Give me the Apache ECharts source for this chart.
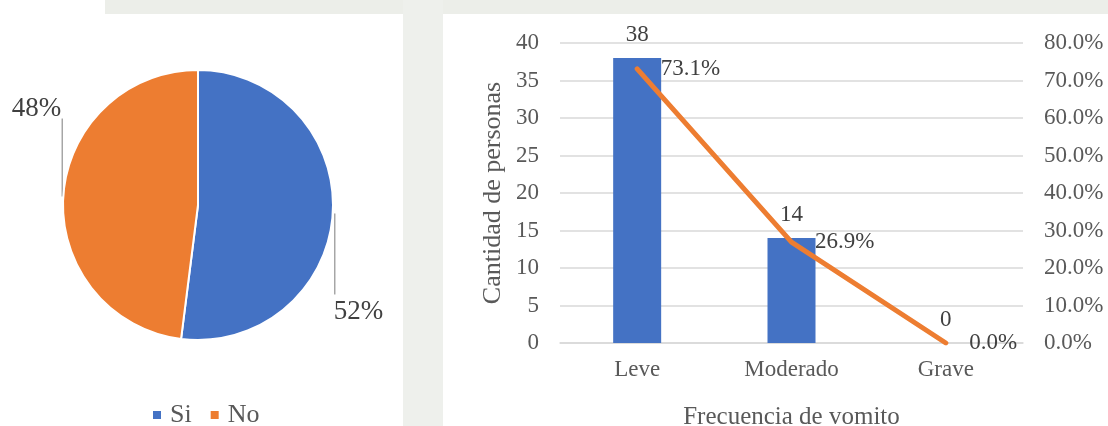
<!DOCTYPE html>
<html>
<head>
<meta charset="utf-8">
<script src="https://cdn.jsdelivr.net/npm/echarts@6/dist/echarts.min.js"></script>
<style>
html,body{margin:0;padding:0;background:#ffffff;}
#c{width:1108px;height:426px;}
</style>
</head>
<body>
<div id="c"></div>
<script>
// Pie data
const pieNames = ['Si', 'No'];
const pieValues = [52, 48];
// Bar + line data
const categories = ['Leve', 'Moderado', 'Grave'];
const counts = [38, 14, 0];
const percents = [0.731, 0.269, 0.0];
const leftTicks = [0, 5, 10, 15, 20, 25, 30, 35, 40];
const rightTicks = ['0.0%', '10.0%', '20.0%', '30.0%', '40.0%', '50.0%', '60.0%', '70.0%', '80.0%'];

const FONT = 'Liberation Serif';
const TXT = '#595959';
const DARK = '#404040';
const BLUE = '#4472C4';
const ORANGE = '#ED7D31';

const chart = echarts.init(document.getElementById('c'), null, {renderer: 'canvas'});

const option = {
  backgroundColor: '#ffffff',
  animation: false,
  textStyle: {fontFamily: FONT},
  graphic: [
    {type: 'rect', shape: {x: 105, y: 0, width: 1003, height: 14}, style: {fill: '#eceee9'}, z: -10, silent: true},
    {type: 'rect', shape: {x: 403, y: 0, width: 40, height: 426}, style: {fill: '#eef0ec'}, z: -10, silent: true}
  ],
  legend: {
    data: pieNames,
    left: 151,
    top: 402,
    padding: 0,
    icon: 'rect',
    itemWidth: 10,
    itemHeight: 10,
    itemGap: 17,
    textStyle: {fontFamily: FONT, fontSize: 26, color: TXT, padding: [0, 0, 0, 3]}
  },
  grid: {left: 560, right: 85, top: 43, bottom: 83, outerBoundsMode: 'none', containLabel: false},
  xAxis: {
    type: 'category',
    data: categories,
    axisLine: {lineStyle: {color: '#d9d9d9', width: 1.5}},
    axisTick: {show: false},
    axisLabel: {color: TXT, fontFamily: FONT, fontSize: 23, margin: 15},
    name: 'Frecuencia de vomito',
    nameLocation: 'middle',
    nameGap: 62,
    nameTextStyle: {color: TXT, fontFamily: FONT, fontSize: 25}
  },
  yAxis: [
    {
      type: 'value', min: 0, max: 40, interval: 5,
      axisLine: {show: false}, axisTick: {show: false},
      splitLine: {lineStyle: {color: '#d9d9d9', width: 1.5}},
      axisLabel: {color: TXT, fontFamily: FONT, fontSize: 23, margin: 21,
        formatter: function (v) { return String(leftTicks[Math.round(v / 5)]); }},
      name: 'Cantidad de personas',
      nameLocation: 'middle',
      nameGap: 54,
      nameRotate: 90,
      nameTextStyle: {color: TXT, fontFamily: FONT, fontSize: 26}
    },
    {
      type: 'value', min: 0, max: 0.8, interval: 0.1,
      axisLine: {show: false}, axisTick: {show: false},
      splitLine: {show: false},
      axisLabel: {color: TXT, fontFamily: FONT, fontSize: 23, margin: 21,
        formatter: function (v) { return rightTicks[Math.round(v * 10)]; }}
    }
  ],
  series: [
    {
      type: 'pie',
      center: [198, 205],
      radius: 135,
      startAngle: 90,
      clockwise: true,
      data: pieNames.map((n, i) => ({name: n, value: pieValues[i], itemStyle: {color: i === 0 ? BLUE : ORANGE}})),
      itemStyle: {borderColor: '#ffffff', borderWidth: 2},
      label: {
        show: true, position: 'outside', overflow: 'none',
        formatter: function (p) { return Math.round(p.percent) + '%'; },
        color: DARK, fontFamily: FONT, fontSize: 27
      },
      labelLine: {show: true, length: 10, length2: 10, lineStyle: {color: '#a6a6a6', width: 1.5}},
      labelLayout: function (params) {
        const p0 = params.labelLinePoints ? params.labelLinePoints[0] : null;
        if (!p0) return {};
        if (params.dataIndex === 0) {
          return {x: p0[0] + 1, y: p0[1] + 98, align: 'left', verticalAlign: 'middle',
            labelLinePoints: [[p0[0] + 2, p0[1]], [p0[0] + 2, p0[1] + 81]]};
        }
        return {x: p0[0] - 2, y: p0[1] - 88, align: 'right', verticalAlign: 'middle',
          labelLinePoints: [[p0[0] - 1, p0[1]], [p0[0] - 1, p0[1] - 78]]};
      }
    },
    {
      type: 'bar',
      data: counts,
      yAxisIndex: 0,
      barWidth: 48,
      itemStyle: {color: BLUE},
      label: {show: true, position: 'top', distance: 12, color: DARK, fontFamily: FONT, fontSize: 23}
    },
    {
      type: 'line',
      data: percents,
      yAxisIndex: 1,
      symbol: 'circle',
      symbolSize: 1,
      itemStyle: {color: ORANGE},
      lineStyle: {color: ORANGE, width: 5, cap: 'round', join: 'round'},
      z: 5,
      label: {show: true, position: 'right', distance: 23, color: DARK, fontFamily: FONT, fontSize: 23,
        formatter: function (p) { return (p.value * 100).toFixed(1) + '%'; }}
    }
  ]
};
chart.setOption(option);
</script>
</body>
</html>
